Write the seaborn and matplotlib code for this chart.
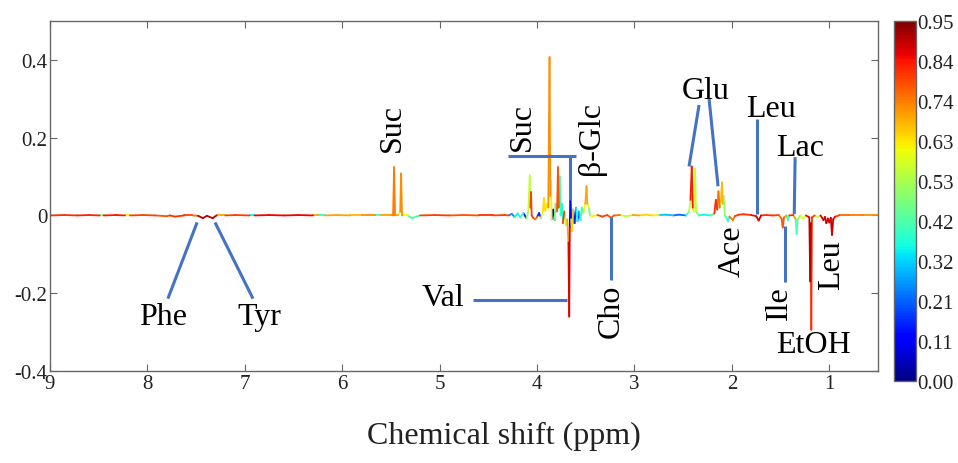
import numpy as np
import pandas as pd
import matplotlib
matplotlib.use("Agg")
import matplotlib.pyplot as plt
import seaborn as sns

# OPLS-DA loading trace: chemical shift (ppm), loading (covariance), |r| (correlation)
ppm = [9.00, 8.85, 8.72, 8.60, 8.49, 8.45, 8.32, 8.23, 8.18, 8.05, 7.92, 7.80, 7.77, 7.72,
       7.62, 7.54, 7.48, 7.43, 7.39, 7.33, 7.29, 7.20, 7.10, 6.95, 6.90, 6.75, 6.60, 6.45,
       6.30, 6.25, 6.18, 6.05, 5.92, 5.80, 5.66, 5.60, 5.50, 5.478, 5.468, 5.458, 5.43,
       5.405, 5.396, 5.386, 5.33, 5.28, 5.24, 5.20, 5.05, 4.90, 4.75, 4.60, 4.45, 4.33,
       4.29, 4.26, 4.23, 4.20, 4.17, 4.14, 4.11, 4.09, 4.075, 4.068, 4.062, 4.055, 4.04,
       4.02, 4.00, 3.98, 3.96, 3.94, 3.93, 3.915, 3.90, 3.885, 3.872, 3.864, 3.858, 3.850,
       3.835, 3.82, 3.81, 3.795, 3.785, 3.777, 3.768, 3.758, 3.745, 3.735, 3.72, 3.705,
       3.69, 3.678, 3.670, 3.664, 3.658, 3.650, 3.64, 3.63, 3.615, 3.60, 3.585, 3.57,
       3.555, 3.54, 3.525, 3.505, 3.492, 3.484, 3.47, 3.455, 3.43, 3.38, 3.33, 3.28, 3.24,
       3.21, 3.15, 3.08, 3.02, 2.95, 2.88, 2.82, 2.75, 2.68, 2.60, 2.55, 2.47, 2.44, 2.425,
       2.412, 2.402, 2.392, 2.378, 2.368, 2.34, 2.29, 2.22, 2.18, 2.165, 2.150, 2.138,
       2.125, 2.112, 2.102, 2.094, 2.085, 2.072, 2.055, 2.040, 2.025, 1.990, 1.97, 1.93,
       1.88, 1.80, 1.75, 1.725, 1.70, 1.65, 1.58, 1.52, 1.49, 1.478, 1.465, 1.44, 1.425,
       1.41, 1.37, 1.345, 1.335, 1.325, 1.30, 1.27, 1.24, 1.205, 1.196, 1.190, 1.185,
       1.178, 1.15, 1.12, 1.09, 1.06, 1.045, 1.03, 1.015, 1.00, 0.985, 0.972, 0.96, 0.94,
       0.90, 0.80, 0.65, 0.50]
loading = [0.000, 0.001, 0.000, 0.001, 0.000, 0.000, 0.001, 0.000, 0.000, 0.001, 0.000,
           -0.002, 0.000, -0.003, 0.000, 0.000, -0.001, -0.007, -0.001, -0.007, 0.000,
           0.000, 0.001, 0.000, 0.000, 0.001, 0.000, 0.001, 0.000, 0.000, 0.000, 0.001,
           0.000, 0.000, 0.000, 0.000, 0.000, 0.000, 0.124, 0.000, 0.000, 0.010, 0.108,
           0.000, 0.000, -0.007, -0.003, 0.000, 0.001, 0.000, 0.001, 0.000, 0.000, 0.001,
           0.000, 0.004, -0.004, 0.005, -0.005, 0.006, -0.007, 0.010, 0.103, 0.020, 0.060,
           0.000, -0.006, -0.010, -0.004, 0.006, -0.006, 0.010, 0.045, 0.012, 0.030, 0.020,
           0.407, 0.050, 0.090, -0.010, 0.015, -0.012, 0.030, 0.010, 0.124, 0.020, 0.100,
           0.000, 0.030, -0.020, 0.010, -0.025, -0.010, -0.070, -0.260, -0.030, 0.060,
           -0.010, -0.040, 0.015, -0.020, 0.020, -0.015, 0.010, -0.012, 0.020, 0.005, 0.030,
           0.075, 0.030, 0.020, 0.000, -0.002, 0.001, -0.003, 0.001, -0.006, 0.000, 0.001,
           -0.002, 0.001, 0.000, 0.002, 0.000, 0.001, 0.002, 0.000, 0.002, 0.000, 0.010,
           0.040, 0.126, 0.020, 0.010, 0.120, 0.010, 0.000, 0.002, 0.000, 0.005, 0.040,
           0.015, 0.062, 0.020, 0.035, 0.085, 0.030, 0.050, 0.000, -0.005, -0.015, -0.003,
           -0.012, -0.002, 0.002, 0.003, 0.001, -0.002, -0.013, 0.000, 0.001, 0.000, 0.001,
           -0.008, -0.031, -0.005, 0.000, -0.012, 0.000, 0.001, -0.010, -0.048, -0.010,
           0.000, -0.008, 0.000, -0.005, -0.170, -0.020, -0.294, -0.005, 0.000, -0.004,
           0.000, -0.012, -0.004, -0.020, -0.008, -0.018, -0.006, -0.050, -0.010, -0.003,
           0.000, 0.000, 0.000, 0.000]
corr = [0.80, 0.82, 0.78, 0.83, 0.50, 0.80, 0.84, 0.60, 0.82, 0.80, 0.84, 0.78, 0.45, 0.82,
        0.80, 0.40, 0.75, 0.90, 0.80, 0.90, 0.70, 0.60, 0.80, 0.35, 0.82, 0.86, 0.84, 0.86,
        0.70, 0.38, 0.65, 0.70, 0.68, 0.72, 0.40, 0.70, 0.72, 0.72, 0.74, 0.70, 0.60, 0.55,
        0.72, 0.60, 0.45, 0.42, 0.40, 0.75, 0.80, 0.84, 0.78, 0.82, 0.76, 0.80, 0.35, 0.25,
        0.15, 0.35, 0.20, 0.40, 0.12, 0.50, 0.55, 0.85, 0.80, 0.40, 0.80, 0.75, 0.30, 0.15,
        0.30, 0.60, 0.64, 0.55, 0.62, 0.66, 0.72, 0.68, 0.62, 0.25, 0.12, 0.30, 0.45, 0.60,
        0.78, 0.50, 0.40, 0.30, 0.35, 0.80, 0.30, 0.55, 0.66, 0.70, 0.87, 0.75, 0.10, 0.30,
        0.65, 0.25, 0.15, 0.35, 0.20, 0.45, 0.30, 0.40, 0.55, 0.60, 0.70, 0.62, 0.45, 0.50,
        0.62, 0.75, 0.80, 0.68, 0.78, 0.62, 0.75, 0.55, 0.70, 0.45, 0.65, 0.38, 0.62, 0.30,
        0.40, 0.22, 0.18, 0.40, 0.55, 0.84, 0.62, 0.45, 0.55, 0.45, 0.32, 0.35, 0.30, 0.45,
        0.82, 0.60, 0.75, 0.55, 0.50, 0.68, 0.55, 0.50, 0.40, 0.45, 0.38, 0.60, 0.75, 0.80,
        0.78, 0.82, 0.84, 0.85, 0.88, 0.80, 0.82, 0.80, 0.80, 0.75, 0.78, 0.70, 0.45, 0.40,
        0.60, 0.82, 0.70, 0.42, 0.50, 0.62, 0.58, 0.75, 0.85, 0.90, 0.86, 0.82, 0.80, 0.60,
        0.55, 0.80, 0.87, 0.86, 0.88, 0.86, 0.87, 0.86, 0.89, 0.85, 0.80, 0.76, 0.74, 0.72,
        0.72]

# Metabolite assignments
names = ["Suc", "Suc", "β-Glc", "Val", "Cho", "Glu", "Leu", "Lac", "Ace", "Ile", "Leu",
         "EtOH", "Phe", "Tyr"]

# Colour-bar tick labels (|r|)
cbar_labels = ["0.00", "0.11", "0.21", "0.32", "0.42", "0.53", "0.63", "0.74", "0.84", "0.95"]
r_max = 0.95

# Axis ticks
x_ticks = [9, 8, 7, 6, 5, 4, 3, 2, 1]
y_ticks = [-0.4, -0.2, 0, 0.2, 0.4]
y_tick_labels = ["-0.4", "-0.2", "0", "0.2", "0.4"]

# Label placement (ppm, loading, rotation) and leader lines
label_pos = [(5.49, 0.227, 90), (4.15, 0.230, 90), (3.446, 0.201, 90), (4.965, -0.212, 0),
             (3.24, -0.245, 90), (2.265, 0.320, 0), (1.597, 0.274, 0), (1.30, 0.175, 0),
             (1.998, -0.090, 90), (1.515, -0.222, 90), (0.98, -0.126, 90),
             (1.166, -0.333, 0), (7.84, -0.261, 0), (6.855, -0.261, 0)]
leaders = [
    [(4.298, 0.152), (3.60, 0.152)], [(3.661, 0.152), (3.661, 0.040)],
    [(4.657, -0.217), (3.692, -0.217)],
    [(3.24, -0.003), (3.24, -0.165)],
    [(2.337, 0.284), (2.44, 0.126)], [(2.234, 0.299), (2.142, 0.075)],
    [(1.741, 0.248), (1.741, 0.003)],
    [(1.351, 0.150), (1.36, 0.003)],
    [(1.454, -0.028), (1.454, -0.170)],
    [(7.49, -0.018), (7.79, -0.214)],
    [(7.306, -0.018), (6.916, -0.214)],
]

sns.set_theme(style="ticks")
plt.rcParams["font.family"] = ["Liberation Serif", "DejaVu Serif"]
plt.rcParams["axes.edgecolor"] = "#666666"
plt.rcParams["axes.linewidth"] = 1.0

fig = plt.figure(figsize=(9.58, 4.64), dpi=100)
ax = fig.add_axes([0.0522, 0.1983, 0.8643, 0.7543])
cax = fig.add_axes([0.9332, 0.1767, 0.023, 0.776])

# Split the trace into segments, each coloured by the |r| of its taller end
rows = []
for i in range(len(ppm) - 1):
    a, b = loading[i], loading[i + 1]
    r = corr[i + 1] if abs(b) > abs(a) else corr[i]
    rows.append({"seg": i, "ppm": ppm[i], "loading": a, "r": r})
    rows.append({"seg": i, "ppm": ppm[i + 1], "loading": b, "r": r})
df = pd.DataFrame(rows)

cmap = plt.get_cmap("jet")
sns.lineplot(data=df, x="ppm", y="loading", hue="r", units="seg", estimator=None,
             sort=False, palette=cmap, hue_norm=(0, r_max), legend=False,
             linewidth=1.3, ax=ax)

leader_color = "#4472C4"
for line in leaders:
    xs, ys = zip(*line)
    ax.plot(xs, ys, color=leader_color, lw=2.2, solid_capstyle="butt", zorder=3)

for name, (lx, ly, rot) in zip(names, label_pos):
    ax.text(lx, ly, name, rotation=rot, ha="center", va="center", fontsize=23,
            color="black", zorder=4)

ax.set_xlim(9, 0.5)
ax.set_ylim(-0.4, 0.5)
ax.set_xticks(x_ticks)
ax.set_xticklabels([str(t) for t in x_ticks])
ax.set_yticks(y_ticks)
ax.set_yticklabels(y_tick_labels)
ax.tick_params(direction="in", top=True, right=True, length=5, width=0.8,
               color="#666666", labelsize=15, pad=2, labelcolor="#222222")
ax.set_xlabel("Chemical shift (ppm)", fontsize=23, color="#222222")
ax.xaxis.set_label_coords(0.548, -0.143)
ax.xaxis.label.set_va("top")
ax.set_ylabel("")

sm = plt.cm.ScalarMappable(cmap=cmap, norm=plt.Normalize(0, r_max))
cb = fig.colorbar(sm, cax=cax)
cb.set_ticks(np.linspace(0, r_max, len(cbar_labels)))
cb.set_ticklabels(cbar_labels)
cb.outline.set_edgecolor("#666666")
cb.ax.tick_params(direction="in", length=3, width=0.8, color="#333333",
                  labelsize=15, pad=1, labelcolor="#222222")

fig.savefig("out.png", dpi=100)
